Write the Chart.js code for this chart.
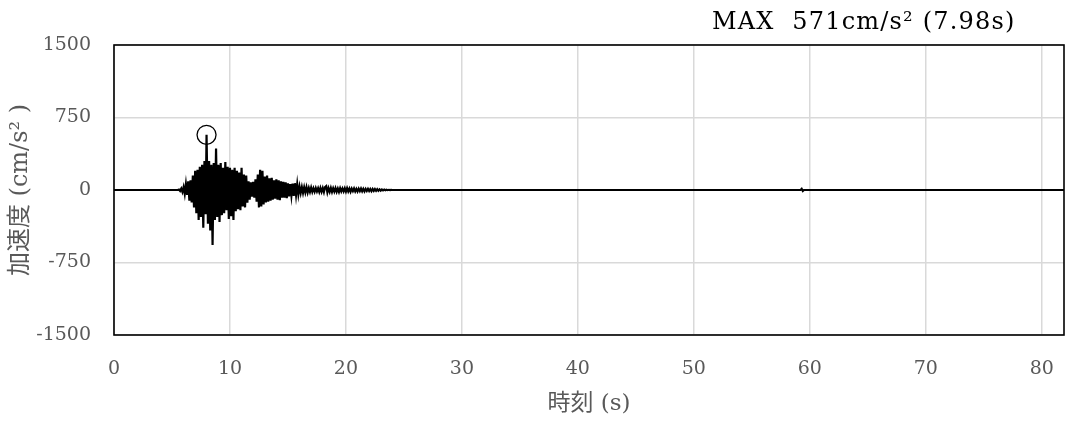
<!DOCTYPE html>
<html>
<head>
<meta charset="utf-8">
<script src="https://cdn.jsdelivr.net/npm/chart.js@4"></script>
<style>
  html, body { margin: 0; padding: 0; background: #fff; }
  #wrap { width: 1070px; height: 423px; }
  canvas { display: block; }
</style>
</head>
<body>
<div id="wrap"><canvas id="myChart" width="1070" height="423"></canvas></div>
<script>
// --- données ---
const times = [0,
  5.5, 5.6, 5.7, 5.8, 5.9,
  6.0, 6.1, 6.2, 6.3, 6.4, 6.5, 6.6, 6.7, 6.8, 6.9,
  7.0, 7.1, 7.2, 7.3, 7.4, 7.5, 7.6, 7.7, 7.8, 7.9,
  7.98, 8.1, 8.2, 8.3, 8.4, 8.5, 8.6, 8.7, 8.8, 8.9,
  9.0, 9.1, 9.2, 9.3, 9.4, 9.5, 9.6, 9.7, 9.8, 9.9,
  10.0, 10.1, 10.2, 10.3, 10.4, 10.5, 10.6, 10.7, 10.8, 10.9,
  11.0, 11.1, 11.2, 11.3, 11.4, 11.5, 11.6, 11.7, 11.8, 11.9,
  12.0, 12.1, 12.2, 12.3, 12.4, 12.5, 12.6, 12.7, 12.8, 12.9,
  13.0, 13.1, 13.2, 13.3, 13.4, 13.5, 13.6, 13.7, 13.8, 13.9,
  14.0, 14.1, 14.2, 14.3, 14.4, 14.5, 14.6, 14.7, 14.8, 14.9,
  15.0, 15.1, 15.2, 15.3, 15.4, 15.5, 15.6, 15.7, 15.8, 15.9,
  16.0, 16.1, 16.2, 16.3, 16.4, 16.5, 16.6, 16.7, 16.8, 16.9,
  17.0, 17.1, 17.2, 17.3, 17.4, 17.5, 17.6, 17.7, 17.8, 17.9,
  18.0, 18.1, 18.2, 18.3, 18.4, 18.5, 18.6, 18.7, 18.8, 18.9,
  19.0, 19.1, 19.2, 19.3, 19.4, 19.5, 19.6, 19.7, 19.8, 19.9,
  20.0, 20.1, 20.2, 20.3, 20.4, 20.5, 20.6, 20.7, 20.8, 20.9,
  21.0, 21.1, 21.2, 21.3, 21.4, 21.5, 21.6, 21.7, 21.8, 21.9,
  22.0, 22.1, 22.2, 22.3, 22.4, 22.5, 22.6, 22.7, 22.8, 22.9,
  23.0, 23.1, 23.2, 23.3, 23.4, 23.5, 23.6, 23.7, 23.8, 23.9,
  24.0,
  59.2, 59.3, 59.4, 59.5,
  81.92];

const accel = [0,
  0, 5, -10, 15, -20,
  30, -40, 60, -50, 90, -110, 100, -130, 150, -180,
  200, -240, 210, -310, 240, -280, 260, -390, 300, -250,
  571, -350, 300, -420, 260, -570, 280, -310, 430, -280,
  260, -330, 280, -260, 230, -240, 290, -210, 240, -300,
  230, -270, 210, -310, 230, -220, 200, -200, 180, -210,
  230, -170, 160, -180, 150, -130, 90, -100, 80, -70,
  85, -80, 110, -120, 160, -180, 210, -170, 200, -150,
  140, -130, 150, -120, 120, -110, 125, -100, 100, -90,
  110, -100, 100, -105, 90, -80, 85, -80, 80, -85,
  70, -65, 60, -55, 65, -60, 70, -50, 60, -45,
  35, -30, 30, -30, 28, -25, 30, -25, 22, -20,
  25, -20, 18, -18, 20, -15, 18, -20, 22, -18,
  20, -22, 30, 40, -25, 20, -18, 22, -20, 18,
  -16, 20, -18, 15, -20, 18, -15, 16, -14, 18,
  -16, 20, -15, 15, -18, 14, -12, 16, -14, 12,
  -15, 14, -12, 15, -13, 12, -14, 12, -10, 12,
  -11, 10, -12, 10, -9, 10, -8, 9, -8, 7,
  -6, 5, -4, 4, -3, 3, -2, 2, -1, 1,
  0,
  0, 12, -10, 0,
  0];

const maxTime = [7.98];
const maxAccel = [571];
const titreMax = 'MAX  571cm/s² (7.98s)';
const yTicks = [-1500, -750, 0, 750, 1500];
const xTicks = [0, 10, 20, 30, 40, 50, 60, 70, 80];

const serif = "'DejaVu Serif', 'Noto Sans CJK JP', serif";
const gris = '#595959';

// cadre noir autour de la zone du graphique + titre MAX
const cadrePlugin = {
  id: 'cadre',
  afterDatasetsDraw(chart) {
    const { ctx, chartArea: a } = chart;
    ctx.save();
    ctx.strokeStyle = '#000';
    ctx.lineWidth = 1.6;
    ctx.strokeRect(a.left, a.top, a.right - a.left, a.bottom - a.top);
    ctx.restore();
  },
  afterDraw(chart) {
    const { ctx } = chart;
    ctx.save();
    ctx.fillStyle = '#000';
    ctx.font = "24px " + serif;
    ctx.letterSpacing = '1.2px';
    ctx.textAlign = 'left';
    ctx.textBaseline = 'middle';
    ctx.fillText(titreMax, 712, 23);
    ctx.restore();
  }
};

const points = times.map((t, i) => ({ x: t, y: accel[i] }));

new Chart(document.getElementById('myChart'), {
  type: 'line',
  data: {
    datasets: [{
      type: 'scatter',
      data: maxTime.map((t, i) => ({ x: t, y: maxAccel[i] })),
      pointRadius: 9.5,
      pointStyle: 'circle',
      borderColor: '#000',
      backgroundColor: 'rgba(0,0,0,0)',
      pointBorderWidth: 1.3,
      showLine: false
    }, {
      data: points,
      borderColor: '#000',
      borderWidth: 2.2,
      pointRadius: 0,
      tension: 0,
      fill: false
    }]
  },
  options: {
    responsive: false,
    animation: false,
    events: [],
    layout: { autoPadding: false, padding: { left: 0, right: 6, top: 45, bottom: 0 } },
    plugins: { legend: { display: false }, tooltip: { enabled: false } },
    scales: {
      x: {
        type: 'linear',
        min: 0,
        max: 81.92,
        afterBuildTicks: s => { s.ticks = xTicks.map(v => ({ value: v })); },
        afterFit: s => { s.height = 88; },
        grid: {
          color: '#d9d9d9', lineWidth: 1.5,
          drawTicks: true, tickLength: 20, tickColor: 'rgba(0,0,0,0)'
        },
        border: { display: false },
        ticks: { padding: 3, color: gris, font: { family: serif, size: 19 } },
        title: {
          display: true, text: '時刻 (s)', color: gris,
          font: { family: serif, size: 23 }, padding: { top: 2, bottom: 5 }
        }
      },
      y: {
        min: -1500,
        max: 1500,
        afterBuildTicks: s => { s.ticks = yTicks.map(v => ({ value: v })); },
        afterFit: s => { s.width = 114; },
        grid: { color: '#d9d9d9', lineWidth: 1.5, drawTicks: false },
        border: { display: false },
        ticks: {
          padding: 23, color: gris, font: { family: serif, size: 19 },
          callback: v => String(v)
        },
        title: {
          display: true, text: '加速度 (cm/s² )', color: gris,
          font: { family: serif, size: 24 }, padding: { top: 6, bottom: 0 }
        }
      }
    }
  },
  plugins: [cadrePlugin]
});
</script>
</body>
</html>
